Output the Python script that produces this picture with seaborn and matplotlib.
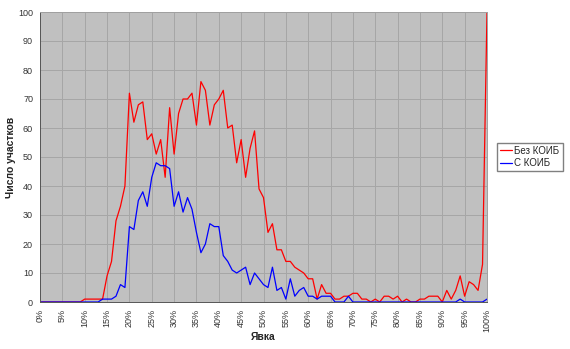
import numpy as np
import pandas as pd
import matplotlib
matplotlib.use("Agg")
import matplotlib.pyplot as plt
import seaborn as sns

turnout = list(range(0, 101))
series_names = ["Без КОИБ", "С КОИБ"]

red_values = [0, 0, 0, 0, 0, 0, 0, 0, 0, 0,
              1, 1, 1, 1, 1, 9, 14, 28, 33, 40,
              72, 62, 68, 69, 56, 58, 51, 56, 43, 67,
              51, 65, 70, 70, 72, 61, 76, 73, 61, 68,
              70, 73, 60, 61, 48, 56, 43, 53, 59, 39,
              36, 24, 27, 18, 18, 14, 14, 12, 11, 10,
              8, 8, 1, 6, 3, 3, 1, 1, 2, 2,
              3, 3, 1, 1, 0, 1, 0, 2, 2, 1,
              2, 0, 1, 0, 0, 1, 1, 2, 2, 2,
              0, 4, 1, 4, 9, 2, 7, 6, 4, 13,
              100]

blue_values = [0, 0, 0, 0, 0, 0, 0, 0, 0, 0,
               0, 0, 0, 0, 1, 1, 1, 2, 6, 5,
               26, 25, 35, 38, 33, 43, 48, 47, 47, 46,
               33, 38, 31, 36, 32, 24, 17, 20, 27, 26,
               26, 16, 14, 11, 10, 11, 12, 6, 10, 8,
               6, 5, 12, 4, 5, 1, 8, 2, 4, 5,
               2, 2, 1, 2, 2, 2, 0, 0, 0, 2,
               0, 0, 0, 0, 0, 0, 0, 0, 0, 0,
               0, 0, 0, 0, 0, 0, 0, 0, 0, 0,
               0, 0, 0, 0, 1, 0, 0, 0, 0, 0,
               1]

x_ticks = list(range(0, 101, 5))
x_tick_labels = [f"{t}%" for t in x_ticks]
y_ticks = list(range(0, 101, 10))

df = pd.DataFrame({
    "Явка": turnout * 2,
    "Число участков": red_values + blue_values,
    "series": [series_names[0]] * len(turnout) + [series_names[1]] * len(turnout),
})

sns.set_style("white")
plt.rcParams["font.family"] = ["Liberation Sans", "DejaVu Sans"]

fig = plt.figure(figsize=(5.70, 3.49), dpi=100)
ax = fig.add_axes([40 / 570, 1 - 302 / 349, (487 - 40) / 570, (302 - 12) / 349])
ax.set_facecolor("#C0C0C0")

sns.lineplot(data=df, x="Явка", y="Число участков", hue="series",
             palette={series_names[0]: "#FF0000", series_names[1]: "#0000FF"},
             linewidth=0.9, ax=ax, legend=True)

ax.set_xlim(0, 100)
ax.set_ylim(0, 100)
ax.set_xticks(x_ticks)
ax.set_xticklabels(x_tick_labels, rotation=90, fontsize=6.5, color="#333333")
ax.set_yticks(y_ticks)
ax.set_yticklabels([str(t) for t in y_ticks], fontsize=6.5, color="#333333")
ax.tick_params(axis="both", direction="out", length=3, width=0.6, color="#555555", pad=2)
ax.grid(True, color="#A6A6A6", linewidth=0.7)
ax.set_axisbelow(True)
for side in ["top", "right"]:
    ax.spines[side].set_color("#A0A0A0")
    ax.spines[side].set_linewidth(0.7)
for side in ["left", "bottom"]:
    ax.spines[side].set_color("#555555")
    ax.spines[side].set_linewidth(0.7)

ax.set_xlabel("Явка", fontsize=7.5, fontweight="bold")
ax.set_ylabel("Число участков", fontsize=7.5, fontweight="bold")
ax.xaxis.set_label_coords(0.5, (302 - 337) / 290, transform=ax.transAxes)
ax.xaxis.label.set_verticalalignment("center")
ax.yaxis.set_label_coords((11 - 40) / 447, 0.5, transform=ax.transAxes)
ax.yaxis.label.set_verticalalignment("center")

handles, labels = ax.get_legend_handles_labels()
ax.legend(handles, labels, loc="center left", bbox_to_anchor=(497 / 570, 1 - 157 / 349),
          bbox_transform=fig.transFigure, frameon=True, fontsize=7,
          handlelength=1.2, handletextpad=0.3, borderpad=0.3, labelspacing=0.25,
          borderaxespad=0, fancybox=False, edgecolor="#808080", framealpha=1)

fig.savefig("out.png", dpi=100, facecolor="white")
